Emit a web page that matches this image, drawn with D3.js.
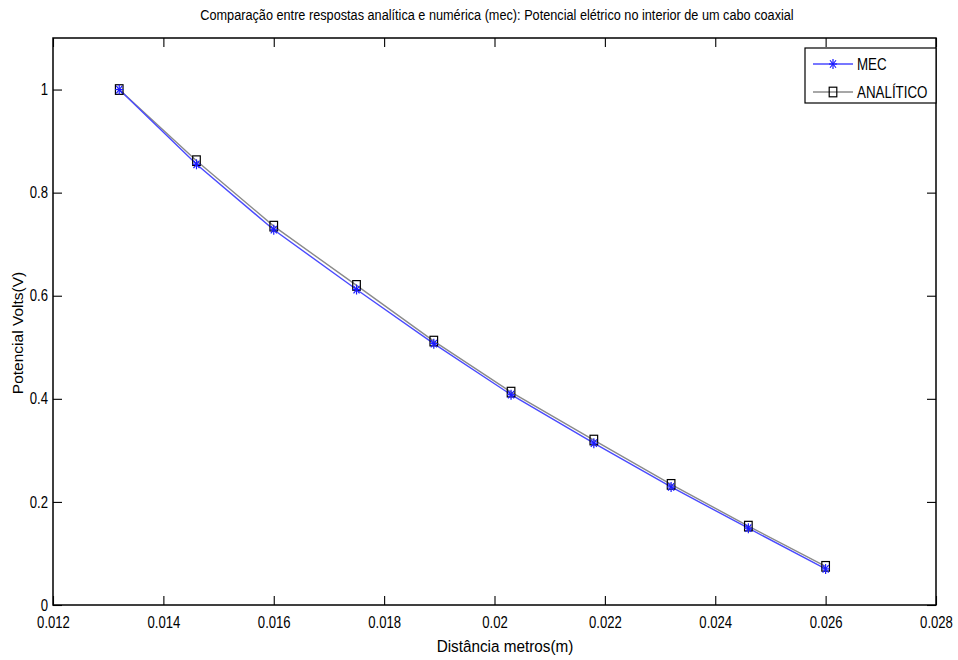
<!DOCTYPE html>
<html><head><meta charset="utf-8">
<script src="https://cdn.jsdelivr.net/npm/d3@7"></script>
<style>
body{margin:0;background:#fff;}
text{font-family:"Liberation Sans",Arial,sans-serif;}
</style></head>
<body><svg id="c" width="958" height="660"></svg>
<script>
const xValues=[0.0132,0.0146,0.0160,0.0175,0.0189,0.0203,0.0218,0.0232,0.0246,0.0260];
const mecValues=[1.000,0.855,0.728,0.612,0.507,0.408,0.314,0.229,0.149,0.070];
const analiticoValues=[1.000,0.862,0.735,0.620,0.512,0.413,0.320,0.234,0.153,0.075];
const xTicks=[0.012,0.014,0.016,0.018,0.02,0.022,0.024,0.026,0.028];
const xTickLabels=["0.012","0.014","0.016","0.018","0.02","0.022","0.024","0.026","0.028"];
const yTicks=[0,0.2,0.4,0.6,0.8,1];
const yTickLabels=["0","0.2","0.4","0.6","0.8","1"];
const seriesNames=["MEC","ANALÍTICO"];
const titleText="Comparação entre respostas analítica e numérica (mec): Potencial elétrico no interior de um cabo coaxial";
const xLabelText="Distância metros(m)";
const yLabelText="Potencial Volts(V)";

const svg=d3.select("#c");
const L=53,R=936,T=38,B=605;
const x=d3.scaleLinear().domain([0.012,0.028]).range([L,R]);
const y=d3.scaleLinear().domain([0,1.1]).range([B,T]);
const NS=0.82;
function narrow(sel,s){
  s=s||NS;
  sel.each(function(){
    const t=d3.select(this);
    const tx=+(t.attr("x")||0);
    t.attr("transform",`translate(${tx},0) scale(${s},1) translate(${-tx},0)`);
  });
}

const tl=9;
const axB=d3.axisBottom(x).tickValues(xTicks).tickFormat((d,i)=>xTickLabels[i]).tickSizeInner(-tl).tickSizeOuter(0).tickPadding(12);
const axT=d3.axisTop(x).tickValues(xTicks).tickFormat("").tickSizeInner(-tl).tickSizeOuter(0);
const axLft=d3.axisLeft(y).tickValues(yTicks).tickFormat((d,i)=>yTickLabels[i]).tickSizeInner(-tl).tickSizeOuter(0).tickPadding(5);
const axRt=d3.axisRight(y).tickValues(yTicks).tickFormat("").tickSizeInner(-tl).tickSizeOuter(0);

function styleAx(g){g.select(".domain").remove();g.selectAll("line").attr("stroke","#000").attr("stroke-width",1.1);g.selectAll("text").attr("fill","#000").style("font-size","16px").call(narrow);}
svg.append("g").attr("transform",`translate(0,${B})`).call(axB).call(styleAx);
svg.append("g").attr("transform",`translate(0,${T})`).call(axT).call(styleAx);
svg.append("g").attr("transform",`translate(${L},0)`).call(axLft).call(styleAx);
svg.append("g").attr("transform",`translate(${R},0)`).call(axRt).call(styleAx);
svg.append("rect").attr("x",L).attr("y",T).attr("width",R-L).attr("height",B-T).attr("fill","none").attr("stroke","#000").attr("stroke-width",1.5);

// lines
const line=vals=>d3.line().x((d,i)=>x(xValues[i])).y(d=>y(d))(vals);
svg.append("path").attr("d",line(analiticoValues)).attr("fill","none").attr("stroke","#8a8a8a").attr("stroke-width",1.4);
svg.append("path").attr("d",line(mecValues)).attr("fill","none").attr("stroke","#4a4aff").attr("stroke-width",1.4);

function star(g,cx,cy){
  const rx=4,ry=5,c="#1a1aff";
  g.append("line").attr("x1",cx).attr("y1",cy-ry).attr("x2",cx).attr("y2",cy+ry).attr("stroke",c).attr("stroke-width",1.2);
  g.append("line").attr("x1",cx-rx).attr("y1",cy).attr("x2",cx+rx).attr("y2",cy).attr("stroke",c).attr("stroke-width",1.2);
  g.append("line").attr("x1",cx-rx*0.75).attr("y1",cy-ry*0.75).attr("x2",cx+rx*0.75).attr("y2",cy+ry*0.75).attr("stroke",c).attr("stroke-width",1.2);
  g.append("line").attr("x1",cx-rx*0.75).attr("y1",cy+ry*0.75).attr("x2",cx+rx*0.75).attr("y2",cy-ry*0.75).attr("stroke",c).attr("stroke-width",1.2);
}
function square(g,cx,cy){
  g.append("rect").attr("x",cx-3.8).attr("y",cy-4.8).attr("width",7.6).attr("height",9.6).attr("fill","none").attr("stroke","#000").attr("stroke-width",1.2);
}
const mk=svg.append("g");
analiticoValues.forEach((v,i)=>square(mk,x(xValues[i]),y(v)));
mecValues.forEach((v,i)=>star(mk,x(xValues[i]),y(v)));

// title and labels
svg.append("text").attr("x",497).attr("y",20).attr("text-anchor","middle").style("font-size","15.5px").text(titleText).call(narrow);
svg.append("text").attr("x",505).attr("y",652).attr("text-anchor","middle").style("font-size","17px").text(xLabelText).call(narrow,0.9);
svg.append("text").attr("transform",`translate(23,333) rotate(-90)`).attr("text-anchor","middle").style("font-size","15.5px").text(yLabelText);

// legend
const lg=svg.append("g");
lg.append("rect").attr("x",805).attr("y",48).attr("width",131).attr("height",55).attr("fill","#fff").attr("stroke","#000").attr("stroke-width",1.2);
lg.append("line").attr("x1",813).attr("x2",853).attr("y1",64).attr("y2",64).attr("stroke","#4a4aff").attr("stroke-width",1.4);
star(lg,833,64);
lg.append("line").attr("x1",813).attr("x2",853).attr("y1",92).attr("y2",92).attr("stroke","#8a8a8a").attr("stroke-width",1.4);
square(lg,833,92);
lg.append("text").attr("x",857).attr("y",70).style("font-size","16.3px").text(seriesNames[0]).call(narrow);
lg.append("text").attr("x",857).attr("y",98).style("font-size","16.3px").text(seriesNames[1]).call(narrow);
</script></body></html>
